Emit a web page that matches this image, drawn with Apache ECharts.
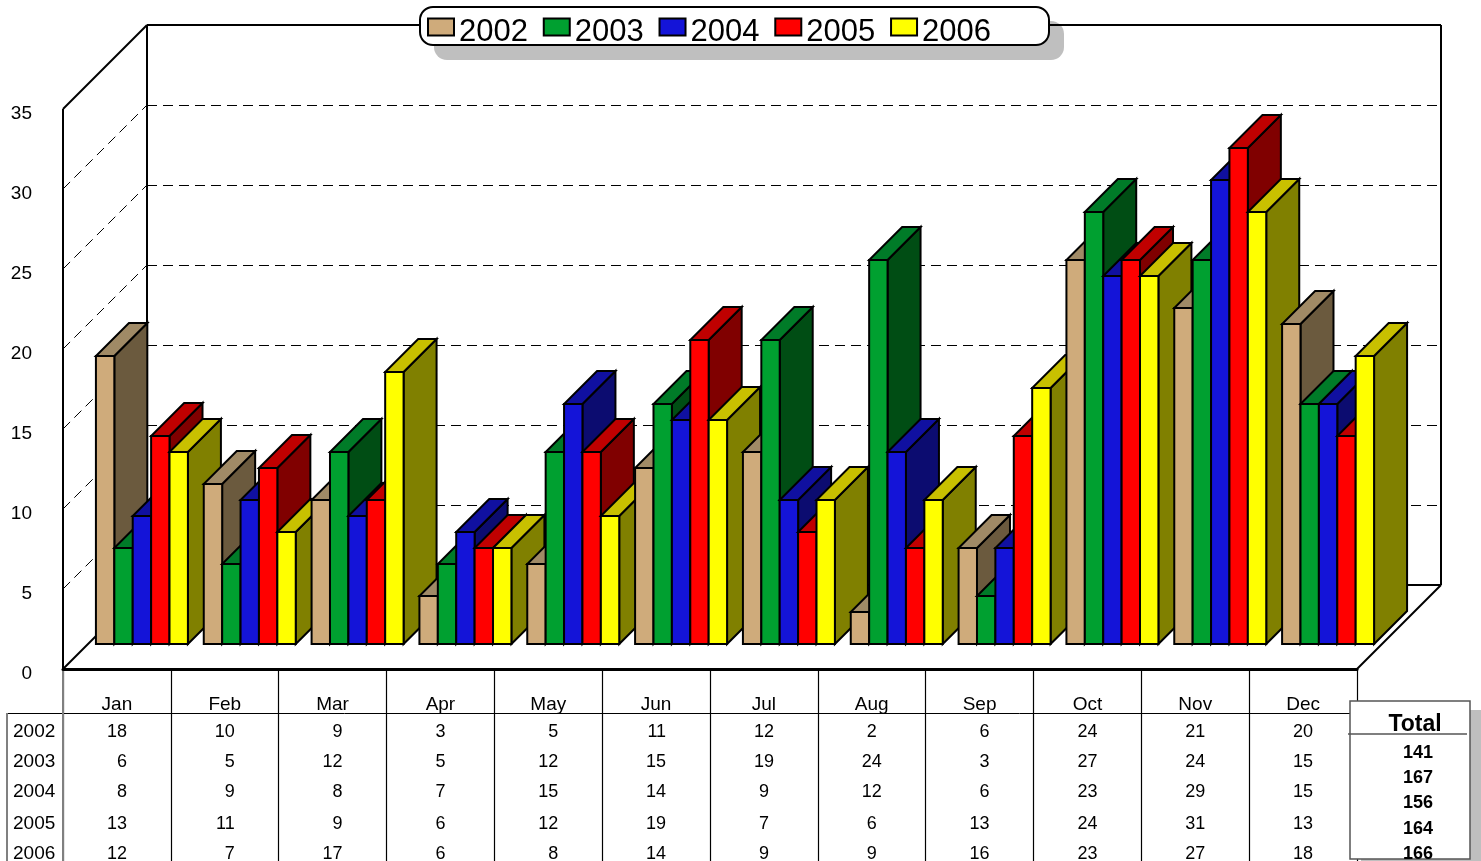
<!DOCTYPE html>
<html>
<head>
<meta charset="utf-8">
<script src="https://cdn.jsdelivr.net/npm/echarts@6/dist/echarts.min.js"></script>
<style>
  html, body { margin: 0; background: #fff; }
  #main { width: 1481px; height: 861px; }
</style>
</head>
<body>
<div id="main"></div>
<script>
const months = ['Jan', 'Feb', 'Mar', 'Apr', 'May', 'Jun', 'Jul', 'Aug', 'Sep', 'Oct', 'Nov', 'Dec'];
const years = ['2002', '2003', '2004', '2005', '2006'];
const values2002 = [18, 10, 9, 3, 5, 11, 12, 2, 6, 24, 21, 20];
const values2003 = [6, 5, 12, 5, 12, 15, 19, 24, 3, 27, 24, 15];
const values2004 = [8, 9, 8, 7, 15, 14, 9, 12, 6, 23, 29, 15];
const values2005 = [13, 11, 9, 6, 12, 19, 7, 6, 13, 24, 31, 13];
const values2006 = [12, 7, 17, 6, 8, 14, 9, 9, 16, 23, 27, 18];
const totals = [141, 167, 156, 164, 166];
const yTicks = [5, 10, 15, 20, 25, 30];

// months whose table column is centred instead of right aligned
const centredMonths = ['Apr', 'Jul', 'Aug'];

const frontColors = ['#cfab7b', '#00a030', '#1414d8', '#ff0000', '#ffff00'];
const topColors = ['#a08a66', '#007b28', '#1010a0', '#c00000', '#c8c000'];
const sideColors = ['#6b5a3e', '#004d14', '#0c0c70', '#800000', '#808000'];

const font = '"Liberation Sans", Arial, sans-serif';
const floorDepth = 84;  // back wall offset
const barInset = 25;    // bars stand this far in from the front edge
const barDepth = 33;
const rowY = [732, 762, 792, 824, 854];
const totalY = [753, 778, 803, 829, 854];

const poly = (points, fill, z2) => ({
  type: 'polygon',
  z2: z2,
  shape: { points: points },
  style: { fill: fill, stroke: '#000', lineWidth: 2, lineJoin: 'miter' }
});

const line = (x1, y1, x2, y2, width, color, dash) => ({
  type: 'line',
  shape: { x1: x1, y1: y1, x2: x2, y2: y2 },
  style: { stroke: color || '#000', lineWidth: width, lineDash: dash || null }
});

const cellText = (text, x, y, align, size) => ({
  type: 'text',
  style: { text: String(text), x: x, y: y, align: align, verticalAlign: 'middle', fill: '#000', font: (size || 18) + 'px ' + font }
});

const renderBar = (params, api) => {
  const s = params.seriesIndex;
  const c = api.value(0);
  const band = api.size([1, 0])[0];
  const barW = band * 0.1706;
  const base = api.coord([c, 0]);
  const top = api.coord([c, api.value(1)]);
  const x0 = base[0] + barInset + (s - 2.5) * barW;
  const x1 = x0 + barW;
  const yb = base[1] - barInset;
  const yt = top[1] - barInset;
  // later bars sit in front of the side face of earlier ones, whatever the series
  const z2 = c * 10 + s;
  const centred = centredMonths.includes(months[c]);
  return {
    type: 'group',
    children: [
      poly([[x1, yb], [x1 + barDepth, yb - barDepth], [x1 + barDepth, yt - barDepth], [x1, yt]], sideColors[s], z2),
      poly([[x0, yt], [x1, yt], [x1 + barDepth, yt - barDepth], [x0 + barDepth, yt - barDepth]], topColors[s], z2),
      poly([[x0, yb], [x1, yb], [x1, yt], [x0, yt]], frontColors[s], z2),
      cellText(api.value(1), centred ? base[0] : base[0] + 10, rowY[s], centred ? 'center' : 'right')
    ]
  };
};

const renderFrame = (params, api) => {
  const fl = api.coord([0, 0]);
  const left = fl[0] - api.size([1, 0])[0] / 2;
  const right = left + api.size([1, 0])[0] * months.length;
  const bottom = fl[1];
  const top = api.coord([0, 35])[1];
  const d = floorDepth;
  const children = [
    line(left + d, top - d, right + d, top - d, 2),
    line(left + d, top - d, left + d, bottom - d, 2),
    line(right + d, top - d, right + d, bottom - d, 2),
    line(left + d, bottom - d, right + d, bottom - d, 2),
    line(left, top, left + d, top - d, 2),
    line(left, bottom, left + d, bottom - d, 2),
    line(right, bottom, right + d, bottom - d, 2),
    line(left, top, left, bottom, 2),
    // table rules
    line(7, 713.5, right, 713.5, 1),
    line(7, 713, 7, 861, 2, '#808080'),
    line(left, bottom + 2, left, 861, 2, '#808080')
  ];
  yTicks.forEach(v => {
    const y = api.coord([0, v])[1];
    children.push(line(left, y, left + d, y - d, 1, '#000', [10, 6]));
    children.push(line(left + d, y - d + 0.5, right + d, y - d + 0.5, 1, '#000', [10, 6]));
  });
  years.forEach((year, i) => {
    children.push(cellText(year, 13, rowY[i], 'left', 19));
  });
  return { type: 'group', children: children };
};

const yearValues = [values2002, values2003, values2004, values2005, values2006];

const series = years.map((year, i) => ({
  name: year,
  type: 'custom',
  z: 2,
  silent: true,
  clip: false,
  itemStyle: { color: frontColors[i] },
  encode: { x: 0, y: 1 },
  renderItem: renderBar,
  data: yearValues[i].map((v, c) => [c, v])
}));

series.push({
  name: 'frame',
  type: 'custom',
  z: 1,
  silent: true,
  clip: false,
  encode: { x: 0, y: 1 },
  renderItem: renderFrame,
  data: [[0, 0]]
});

const graphic = [
  // legend box and its shadow, kept apart so the stroke casts no shadow over the fill
  {
    type: 'rect',
    z: 0,
    shape: { x: 434, y: 21, width: 630, height: 39, r: 13 },
    style: { fill: '#bfbfbf' }
  },
  {
    type: 'rect',
    z: 3,
    shape: { x: 420, y: 7, width: 629, height: 38, r: 13 },
    style: { fill: '#fff', stroke: '#000', lineWidth: 2 }
  },
  // totals box
  {
    type: 'rect',
    z: 9,
    shape: { x: 1361, y: 710, width: 120, height: 151 },
    style: { fill: '#bfbfbf' }
  },
  {
    type: 'rect',
    z: 10,
    shape: { x: 1350, y: 701, width: 120, height: 158 },
    style: { fill: '#fff', stroke: '#555', lineWidth: 1.5 }
  },
  {
    type: 'line',
    z: 11,
    shape: { x1: 1348, y1: 734, x2: 1467, y2: 734 },
    style: { stroke: '#555', lineWidth: 1.5 }
  },
  {
    type: 'text',
    z: 11,
    style: { text: 'Total', x: 1415, y: 725, align: 'center', verticalAlign: 'middle', fill: '#000', font: 'bold 23px ' + font }
  }
].concat(totals.map((t, i) => ({
  type: 'text',
  z: 11,
  style: { text: String(t), x: 1418, y: totalY[i], align: 'center', verticalAlign: 'middle', fill: '#000', font: 'bold 18px ' + font }
})));

const chart = echarts.init(document.getElementById('main'));
chart.setOption({
  animation: false,
  backgroundColor: '#fff',
  textStyle: { fontFamily: font },
  grid: { left: 63, right: 124, top: 109, bottom: 192 },
  legend: {
    data: years,
    left: 427,
    top: 16.5,
    icon: 'rect',
    orient: 'horizontal',
    selectedMode: false,
    itemWidth: 26,
    itemHeight: 17,
    itemGap: 14.8,
    padding: 0,
    itemStyle: { borderColor: '#000', borderWidth: 2 },
    formatter: name => '{a|' + name + '}',
    textStyle: {
      rich: { a: { fontSize: 31, color: '#000', fontFamily: font, padding: [10, 0, 0, 0] } }
    }
  },
  xAxis: {
    type: 'category',
    data: months,
    boundaryGap: true,
    axisLine: { lineStyle: { color: '#000', width: 3 } },
    axisTick: { show: true, inside: false, length: 192, lineStyle: { color: '#000', width: 1.2 } },
    axisLabel: { interval: 0, margin: 26, fontSize: 19, color: '#000', fontFamily: font },
    splitLine: { show: false }
  },
  yAxis: {
    type: 'value',
    min: 0,
    max: 35,
    interval: 5,
    axisLine: { show: false },
    axisTick: { show: false },
    splitLine: { show: false },
    axisLabel: { margin: 31, fontSize: 19, color: '#000', fontFamily: font, verticalAlign: 'top', lineHeight: 10 }
  },
  graphic: graphic,
  series: series
});
</script>
</body>
</html>
